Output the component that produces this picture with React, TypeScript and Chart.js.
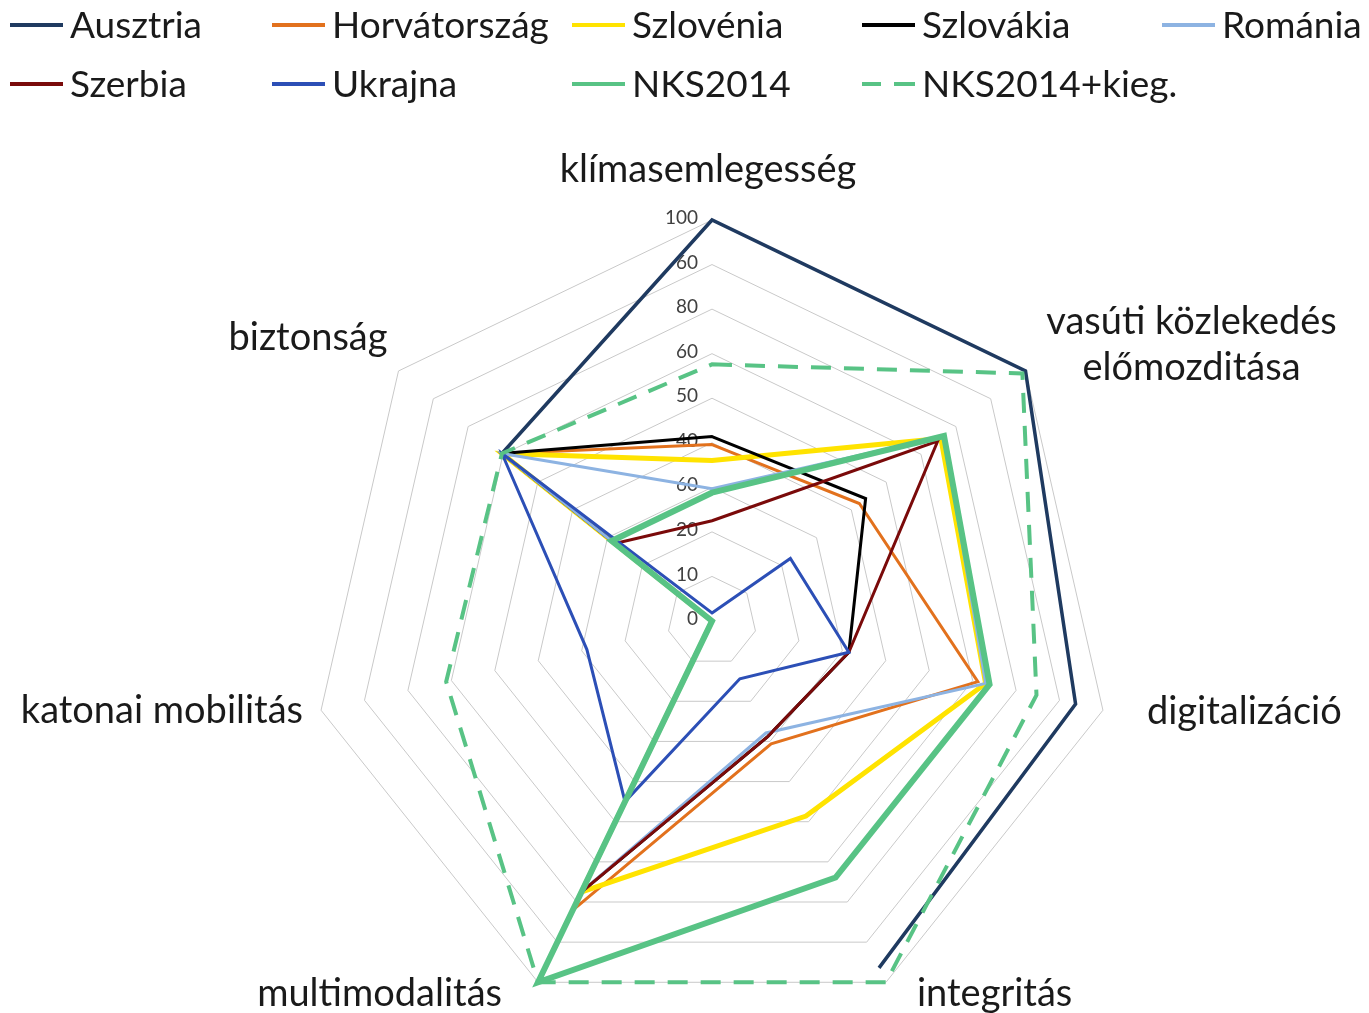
import React, { useEffect, useRef } from "react";
import { Chart, registerables } from "chart.js";

Chart.register(...registerables);

const categories: string[][] = [
  ["klímasemlegesség"],
  ["vasúti közlekedés", "előmozditása"],
  ["digitalizáció"],
  ["integritás"],
  ["multimodalitás"],
  ["katonai mobilitás"],
  ["biztonság"],
];

const seriesNames = [
  "Ausztria",
  "Horvátország",
  "Szlovénia",
  "Szlovákia",
  "Románia",
  "Szerbia",
  "Ukrajna",
  "NKS2014",
  "NKS2014+kieg.",
];

const ausztria = [100, 100, 93, 96, null, null, 67];
const horvatorszag = [44, 47, 68, 34, 80, 0, 67];
const szlovenia = [40, 73, 70, 54, 75, 0, 67];
const szlovakia = [46, 49, 35, 32, 75, 0, 67];
const romania = [33, 74, 70, 31, 75, 0, 67];
const szerbia = [25, 72, 35, 32, 75, 0, 31];
const ukrajna = [2, 25, 35, 16, 50, 32, 67];
const nks2014 = [32, 74, 71, 71, 100, 0, 32];
const nks2014kieg = [64, 99, 83, 100, 100, 68, 67];

// tick labels as printed on the reference, from the centre outwards
const tickLabels = ["0", "10", "20", "60", "40", "50", "60", "80", "60", "100"];

const seriesData = [
  ausztria,
  horvatorszag,
  szlovenia,
  szlovakia,
  romania,
  szerbia,
  ukrajna,
  nks2014,
  nks2014kieg,
];

const seriesColors = [
  "#1f3a60",
  "#e2711d",
  "#ffe300",
  "#000000",
  "#8db3e2",
  "#7a0a0a",
  "#2c4fb6",
  "#58c385",
  "#58c385",
];
const seriesWidths = [3.5, 3, 5, 3, 3, 3, 3, 6, 4];
const seriesDash: number[][] = [[], [], [], [], [], [], [], [], [20, 13]];

// label placement relative to each axis end: [dx, dy, align]
const labelOffsets: [number, number, CanvasTextAlign][] = [
  [-4, -50, "center"],
  [166, -26, "center"],
  [44, 2, "left"],
  [31, 11, "left"],
  [-36, 11, "right"],
  [-18, 1, "right"],
  [-11, -33, "right"],
];

const FONT = "Lato, 'Noto Sans', sans-serif";

const tickPlugin = {
  id: "customTicks",
  beforeDatasetsDraw(chart: any) {
    const scale = chart.scales.r;
    const ctx = chart.ctx;
    ctx.save();
    ctx.font = `19px ${FONT}`;
    ctx.fillStyle = "#404040";
    ctx.textAlign = "right";
    ctx.textBaseline = "middle";
    scale.ticks.forEach((t: any, i: number) => {
      const d = scale.getDistanceFromCenterForValue(t.value);
      const label = tickLabels[i];
      if (label !== undefined) {
        ctx.fillText(label, scale.xCenter - 14, scale.yCenter - d - 2);
      }
    });
    ctx.restore();
  },
};

const pointLabelPlugin = {
  id: "customPointLabels",
  afterDatasetsDraw(chart: any) {
    const scale = chart.scales.r;
    const ctx = chart.ctx;
    const outer = scale.getDistanceFromCenterForValue(scale.max);
    ctx.save();
    ctx.font = `38px ${FONT}`;
    ctx.fillStyle = "#1a1a1a";
    ctx.textBaseline = "middle";
    const lineH = 46;
    categories.forEach((lines, i) => {
      const p = scale.getPointPosition(i, outer);
      const [dx, dy, align] = labelOffsets[i];
      ctx.textAlign = align;
      const y0 = p.y + dy - ((lines.length - 1) * lineH) / 2;
      lines.forEach((line, j) => {
        ctx.fillText(line, p.x + dx, y0 + j * lineH);
      });
    });
    ctx.restore();
  },
};

const legendCols = [10, 272, 572, 862, 1162];
const legendRows = [25, 84];

function Legend() {
  return (
    <>
      {seriesNames.map((name, i) => {
        const col = i < 5 ? i : i - 5;
        const row = i < 5 ? 0 : 1;
        const left = legendCols[col];
        const cy = legendRows[row];
        const dashed = seriesDash[i].length > 0;
        return (
          <div key={name}>
            {dashed ? (
              <>
                <div
                  style={{
                    position: "absolute",
                    left: left,
                    top: cy - 2,
                    width: 19,
                    height: 4,
                    background: seriesColors[i],
                  }}
                />
                <div
                  style={{
                    position: "absolute",
                    left: left + 32,
                    top: cy - 2,
                    width: 21,
                    height: 4,
                    background: seriesColors[i],
                  }}
                />
              </>
            ) : (
              <div
                style={{
                  position: "absolute",
                  left: left,
                  top: cy - 2,
                  width: 53,
                  height: 4,
                  background: seriesColors[i],
                }}
              />
            )}
            <div
              style={{
                position: "absolute",
                left: left + 60,
                top: cy - 25,
                height: 48,
                lineHeight: "48px",
                fontFamily: FONT,
                fontSize: 37,
                color: "#1a1a1a",
                whiteSpace: "nowrap",
              }}
            >
              {name}
            </div>
          </div>
        );
      })}
    </>
  );
}

export default function App() {
  const canvasRef = useRef<HTMLCanvasElement | null>(null);

  useEffect(() => {
    if (!canvasRef.current) return;
    const chart = new Chart(canvasRef.current, {
      type: "radar",
      data: {
        labels: categories.map((c) => c.join(" ")),
        datasets: seriesNames.map((name, i) => ({
          label: name,
          data: seriesData[i] as any,
          borderColor: seriesColors[i],
          backgroundColor: seriesColors[i],
          borderWidth: seriesWidths[i],
          borderDash: seriesDash[i],
          pointRadius: 0,
          pointHoverRadius: 0,
          fill: false,
          tension: 0,
          spanGaps: false,
          order: seriesNames.length - i,
        })),
      },
      options: {
        animation: false,
        responsive: true,
        maintainAspectRatio: false,
        layout: { padding: { top: 220, bottom: 8, left: 311, right: 256 } },
        plugins: {
          legend: { display: false },
          tooltip: { enabled: false },
        },
        scales: {
          r: {
            min: 0,
            max: 100,
            ticks: { stepSize: 100 / 9, display: false },
            grid: { color: "#c9c9c9", lineWidth: 1 },
            angleLines: { display: false },
            pointLabels: { display: false },
          },
        },
      },
      plugins: [tickPlugin, pointLabelPlugin],
    });
    return () => chart.destroy();
  }, []);

  return (
    <div
      style={{
        position: "fixed",
        left: 0,
        top: 0,
        width: 1369,
        height: 1013,
        background: "#ffffff",
        overflow: "hidden",
      }}
    >
      <div
        style={{
          position: "absolute",
          left: 0,
          top: 0,
          width: 1369,
          height: 1030,
        }}
      >
        <canvas ref={canvasRef} />
      </div>
      <Legend />
    </div>
  );
}
